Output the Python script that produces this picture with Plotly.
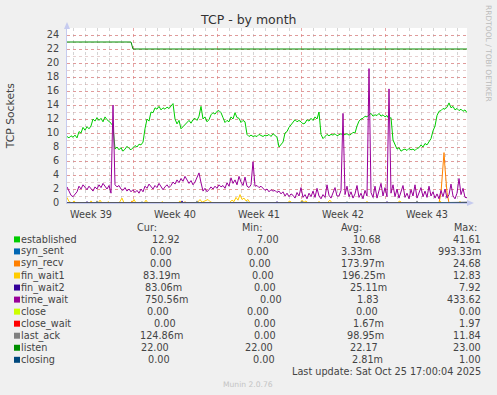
import pandas as pd
import plotly.graph_objects as go

# ---------------- data ----------------
START = "2025-09-22 12:00"
END = "2025-10-25 20:00"
STEP_H = 4  # hours between samples of the dense series

established = [
    9.5, 9.3, 9.6, 9.4, 9.7, 9.3, 10.2, 10.0, 10.8, 10.4,
    10.9, 10.6, 11.0, 12.0, 11.7, 12.2, 11.8, 12.1, 11.6, 12.3,
    11.9, 11.7, 11.4, 11.0, 7.7, 8.0, 7.6, 7.9, 7.4, 7.7,
    8.1, 7.8, 7.6, 7.9, 8.2, 8.0, 8.4, 8.3, 8.7, 10.6,
    12.0, 11.7, 13.0, 12.9, 13.6, 13.4, 13.8, 13.3, 13.6, 13.4,
    13.7, 13.5, 13.8, 14.2, 12.0, 11.3, 11.8, 10.6, 10.9, 11.2,
    11.5, 11.8, 11.4, 11.9, 12.1, 11.8, 12.4, 13.8, 12.0, 12.3,
    11.6, 11.9, 12.6, 12.9, 12.7, 13.1, 13.2, 12.9, 12.2, 11.5,
    11.8, 11.6, 12.3, 12.0, 12.9, 12.2, 12.1, 11.5, 11.8, 11.6,
    9.8, 9.5, 9.7, 9.5, 9.6, 9.5, 9.8, 9.6, 9.5, 9.7,
    9.6, 9.8, 9.5, 9.9, 9.6, 9.4, 8.0, 8.4, 8.7, 10.0,
    10.2, 10.8, 11.2, 11.5, 11.9, 11.6, 11.8, 11.6, 11.3, 11.4,
    11.9, 11.7, 12.1, 11.8, 12.3, 12.0, 13.0, 9.8, 9.2, 9.5,
    9.8, 9.6, 9.8, 9.7, 9.9, 9.6, 9.8, 9.9, 9.7, 9.8,
    9.9, 9.7, 9.8, 10.1, 10.0, 11.0, 11.7, 12.0, 12.1, 12.4,
    12.3, 12.6, 12.8, 12.4, 12.6, 12.5, 12.8, 12.4, 12.6, 12.3,
    12.5, 12.0, 12.2, 9.0, 8.2, 7.7, 7.9, 7.4, 7.6, 7.7,
    7.5, 7.8, 7.6, 7.7, 7.5, 7.8, 7.9, 8.3, 8.0, 8.5,
    8.3, 8.7, 9.2, 10.3, 11.0, 12.5, 13.1, 13.2, 13.5, 13.4,
    13.7, 14.3, 13.6, 13.8, 13.3, 13.5, 13.2, 13.4, 13.1, 13.3,
    12.9,
]

time_wait = [
    2.3, 1.8, 1.1, 0.9, 1.3, 1.6, 2.4, 2.0, 2.6, 2.2,
    1.9, 2.4, 2.1, 1.7, 2.3, 2.0, 2.6, 2.2, 2.8, 2.4,
    2.0, 2.5, 1.4, 14.0, 2.6, 2.3, 2.5, 2.0, 1.8, 2.2,
    1.7, 2.0, 1.6, 1.9, 1.5, 1.8, 1.4, 2.0, 1.6, 2.4,
    2.1, 2.7, 2.3, 2.0, 2.5, 2.2, 2.8, 2.4, 1.9, 2.3,
    2.6, 2.2, 2.5, 3.0, 2.7, 3.3, 2.9, 3.5, 3.1, 3.8,
    3.3, 2.8, 3.2, 2.6, 3.0, 3.6, 4.3, 2.9, 1.7, 2.1,
    1.6, 1.9, 2.3, 2.0, 2.4, 2.1, 2.6, 2.3, 2.5, 2.1,
    2.9, 2.4, 3.6, 2.8, 3.3, 2.6, 3.8, 3.0, 2.5, 3.7,
    2.4, 2.2, 2.6, 5.9, 2.4, 2.5, 2.2, 2.4, 2.1, 1.8,
    2.0, 1.6, 1.9, 1.7, 1.8, 1.5, 1.7, 1.3, 1.6, 1.0,
    1.4, 0.9, 1.3, 1.1, 0.7, 1.5, 1.0, 2.2, 0.8, 1.2,
    0.6, 1.4, 0.9, 1.7, 0.8, 2.1, 1.0, 0.6, 1.2, 0.8,
    2.6, 1.1, 0.7, 1.5, 2.2, 1.0, 1.0, 1.8, 12.8, 1.2,
    2.4, 0.9, 1.6, 0.7, 1.3, 2.5, 0.8, 1.4, 0.6, 1.8,
    1.0, 19.2, 1.5, 0.8, 2.4, 0.7, 1.6, 2.8, 1.0, 2.2,
    0.9, 16.3, 1.4, 2.6, 0.9, 2.0, 0.7, 1.6, 2.5, 0.8,
    1.4, 0.6, 1.9, 1.0, 2.6, 0.7, 1.5, 2.2, 0.9, 1.7,
    0.8, 2.4, 1.0, 1.6, 0.7, 1.3, 0.6, 1.8, 0.9, 2.0,
    0.7, 1.2, 2.7, 1.0, 0.6, 1.4, 3.5, 1.2, 2.1, 0.8,
    0.75,
]

# sparse series: hours since START and values
listen_h = [0, 128, 132, 800]
listen = [23, 23, 22, 22]

syn_recv_h = [0, 128, 130, 132, 234, 236, 238, 744, 748, 752, 754, 756, 760, 764, 800]
syn_recv = [0, 0, 0.3, 0, 0, 0.2, 0, 0, 1.5, 5.0, 7.2, 5.0, 1.5, 0, 0]

fin_wait1_h = [0, 4, 10, 14, 18, 46, 48, 52, 62, 66, 70, 80, 82, 86, 104, 110, 114,
               130, 134, 138, 154, 158, 162, 188, 190, 194, 222, 226, 230, 260, 266,
               270, 276, 282, 286, 292, 324, 330, 334, 338, 342, 346, 350, 354, 358,
               362, 366, 440, 446, 450, 466, 470, 474, 478, 482, 500, 504, 508, 520,
               526, 530, 596, 600, 604, 660, 666, 670, 742, 746, 750, 782, 786, 790, 800]
fin_wait1 = [0.8, 0.2, 0, 0.3, 0, 0, 0.3, 0, 0, 0.4, 0, 0, 0.2, 0, 0, 0.7, 0,
             0, 0.5, 0, 0, 0.4, 0, 0, 0.2, 0, 0, 0.3, 0, 0, 0.5,
             0.1, 0.3, 0.5, 0.2, 0, 0, 0.4, 0.2, 0.8, 0.4, 1.2, 0.5, 0.7, 0.3,
             0.5, 0, 0, 0.3, 0, 0, 0.4, 0.1, 0.3, 0, 0, 0.2, 0, 0,
             0.4, 0, 0, 0.2, 0, 0, 0.3, 0, 0, 0.3, 0, 0, 0.2, 0, 0.08]

fin_wait2_h = [0, 38, 40, 42, 228, 230, 232, 418, 420, 422, 638, 640, 642, 800]
fin_wait2 = [0, 0, 0.2, 0, 0, 0.3, 0, 0, 0.2, 0, 0, 0.2, 0, 0.08]

last_ack_h = [0, 58, 60, 62, 148, 150, 152, 258, 260, 262, 358, 360, 362, 468, 470, 472,
              558, 560, 562, 698, 700, 702, 800]
last_ack = [0, 0, 0.3, 0, 0, 0.2, 0, 0, 0.3, 0, 0, 0.2, 0, 0, 0.3, 0,
            0, 0.2, 0, 0, 0.3, 0, 0.12]

zero_h = [0, 800]
syn_sent = [0, 0]
close = [0, 0]
close_wait = [0, 0]
closing = [0, 0]

week_ticks = ["2025-09-24 12:00", "2025-10-01 12:00", "2025-10-08 12:00",
              "2025-10-15 12:00", "2025-10-22 12:00"]
week_labels = ["Week 39", "Week 40", "Week 41", "Week 42", "Week 43"]
y_ticks = [0, 2, 4, 6, 8, 10, 12, 14, 16, 18, 20, 22, 24]

names = ["established", "syn_sent", "syn_recv", "fin_wait1", "fin_wait2", "time_wait",
         "close", "close_wait", "last_ack", "listen", "closing"]
colors = ["#00CC00", "#0066B3", "#FF8000", "#FFCC00", "#330099", "#990099",
          "#CCFF00", "#FF0000", "#808080", "#008F00", "#00487D"]
cur = ["12.92", "0.00", "0.00", "83.19m", "83.06m", "750.56m", "0.00", "0.00",
       "124.86m", "22.00", "0.00"]
mins = ["7.00", "0.00", "0.00", "0.00", "0.00", "0.00", "0.00", "0.00", "0.00",
        "22.00", "0.00"]
avgs = ["10.68", "3.33m", "173.97m", "196.25m", "25.11m", "1.83", "0.00", "1.67m",
        "98.95m", "22.17", "2.81m"]
maxs = ["41.61", "993.33m", "24.68", "12.83", "7.92", "433.62", "0.00", "1.97",
        "11.84", "23.00", "1.00"]

# ---------------- helpers ----------------
start = pd.Timestamp(START)


def to_time(hours):
    return [start + pd.Timedelta(hours=h) for h in hours]


dense_h = [STEP_H * k for k in range(len(established))]
dense_h_tw = [STEP_H * k for k in range(len(time_wait))]

series = [
    ("established", dense_h, established),
    ("syn_sent", zero_h, syn_sent),
    ("syn_recv", syn_recv_h, syn_recv),
    ("fin_wait1", fin_wait1_h, fin_wait1),
    ("fin_wait2", fin_wait2_h, fin_wait2),
    ("time_wait", dense_h_tw, time_wait),
    ("close", zero_h, close),
    ("close_wait", zero_h, close_wait),
    ("last_ack", last_ack_h, last_ack),
    ("listen", listen_h, listen),
    ("closing", zero_h, closing),
]

fig = go.Figure()
for (nm, hh, vals), col in zip(series, colors):
    fig.add_trace(go.Scatter(
        x=to_time(hh), y=vals, mode="lines", name=nm,
        line=dict(color=col, width=1), showlegend=False, hoverinfo="skip",
    ))

# layout geometry (pixels)
W, H = 497, 395
L, R, T, B = 67, 467, 28, 203


def xp(px):
    return (px - L) / (R - L)


def yp(py):
    return (B - py) / (B - T)


FONT = "DejaVu Sans"
AXIS_COL = "#C6CBEF"
TXT = "#444444"

fig.update_layout(
    width=W, height=H, autosize=False,
    margin=dict(l=L, r=W - R, t=T, b=H - B, pad=0),
    paper_bgcolor="#F0F0F0", plot_bgcolor="#FFFFFF",
    font=dict(family=FONT, size=9.7, color=TXT),
    showlegend=False,
    xaxis=dict(
        type="date", range=[START, END], showticklabels=False, ticks="",
        tick0="2025-09-28", dtick=7 * 86400000,
        showgrid=True, gridcolor="rgba(220,120,120,0.65)", griddash="dot", gridwidth=1,
        minor=dict(tick0="2025-09-22", dtick=86400000, showgrid=True,
                   gridcolor="rgba(170,170,170,0.5)", griddash="dot", gridwidth=1),
        showline=True, linecolor=AXIS_COL, linewidth=1, zeroline=False,
        fixedrange=True,
    ),
    xaxis2=dict(
        type="date", range=[START, END], overlaying="x", anchor="y", side="bottom",
        tickmode="array", tickvals=week_ticks, ticktext=week_labels,
        showgrid=False, ticks="", showline=False, zeroline=False, ticklabelstandoff=4,
        tickfont=dict(family=FONT, size=9.7, color=TXT), fixedrange=True,
    ),
    yaxis=dict(
        range=[0, 25], tickmode="array", tickvals=y_ticks,
        showgrid=True, gridcolor="rgba(220,120,120,0.6)", griddash="dot", gridwidth=1,
        minor=dict(dtick=1, tick0=0, showgrid=True,
                   gridcolor="rgba(200,150,150,0.45)", griddash="dot", gridwidth=1),
        showline=True, linecolor=AXIS_COL, linewidth=1, zeroline=False, ticks="",
        ticklabelstandoff=5, tickfont=dict(family=FONT, size=9.7, color=TXT),
        fixedrange=True,
    ),
)
# put the last (bottom) series on the label axis so it is rendered
fig.data[-1].xaxis = "x2"

ann = []
shapes = []
# title
ann.append(dict(text="TCP - by month", x=xp(248.5), y=yp(19), xref="paper", yref="paper",
                xanchor="center", yanchor="middle", showarrow=False,
                font=dict(family=FONT, size=12.5, color="#333333")))
# y axis title
ann.append(dict(text="TCP Sockets", x=xp(10.8), y=yp(115.5), xref="paper", yref="paper",
                xanchor="center", yanchor="middle", showarrow=False, textangle=-90,
                font=dict(family=FONT, size=10.8, color=TXT)))
# watermark right
ann.append(dict(text="RRDTOOL / TOBI OETIKER", x=xp(488.3), y=yp(53.3), xref="paper",
                yref="paper", xanchor="center", yanchor="middle", showarrow=False,
                textangle=90, font=dict(family=FONT, size=7.5, color="#BBBBBB")))

# legend table
HEAD_Y = 227.7
ROW0 = 239.4
DY = 12.04
cur_x = [151.7, 149, 149, 142.7, 144, 144.3, 146.7, 153.3, 139.3, 140, 147.7]
min_x = [256, 246.7, 248.3, 251.7, 253.3, 259.3, 246.7, 253.3, 253.3, 244, 252.7]
avg_x = [352, 340.7, 340.7, 341.3, 349, 356.7, 355, 352.7, 346.7, 349.3, 351.7]
MAX_RIGHT = 481.8


def txt(s, x, y, anchor="left", size=9.7, color=TXT):
    return dict(text=s, x=xp(x), y=yp(y), xref="paper", yref="paper",
                xanchor=anchor, yanchor="middle", showarrow=False, borderpad=0,
                font=dict(family=FONT, size=size, color=color))


for s, x in zip(["Cur:", "Min:", "Avg:", "Max:"], [135.5, 241.2, 340.2, 452.5]):
    ann.append(txt(s, x, HEAD_Y))

for k in range(len(names)):
    y = ROW0 + DY * k
    shapes.append(dict(type="rect", xref="paper", yref="paper",
                       x0=xp(14), x1=xp(20), y0=yp(y + 3), y1=yp(y - 3),
                       fillcolor=colors[k], line=dict(width=0)))
    ann.append(txt(names[k], 20.3, y))
    ann.append(txt(cur[k], cur_x[k] - 0.5, y))
    ann.append(txt(mins[k], min_x[k] - 0.5, y))
    ann.append(txt(avgs[k], avg_x[k] - 0.5, y))
    ann.append(txt(maxs[k], MAX_RIGHT, y, anchor="right"))

ann.append(txt("Last update: Sat Oct 25 17:00:04 2025", 482, 371, anchor="right"))
ann.append(txt("Munin 2.0.76", 248, 384, anchor="center", size=7.6, color="#C4C4C4"))


# axis arrows
def path(points):
    return "M " + " L ".join(f"{xp(a)},{yp(b)}" for a, b in points) + " Z"


shapes.append(dict(type="path", xref="paper", yref="paper",
                   path=path([(67, 22), (64, 29), (70, 29)]),
                   fillcolor=AXIS_COL, line=dict(width=0)))
shapes.append(dict(type="path", xref="paper", yref="paper",
                   path=path([(474, 203), (467, 200), (467, 206)]),
                   fillcolor=AXIS_COL, line=dict(width=0)))

fig.update_layout(annotations=ann, shapes=shapes)
fig.write_html(
    "out.html",
    config={"displayModeBar": False, "staticPlot": True},
    post_script="document.body.style.margin='0';document.body.style.background='#F0F0F0';",
)
